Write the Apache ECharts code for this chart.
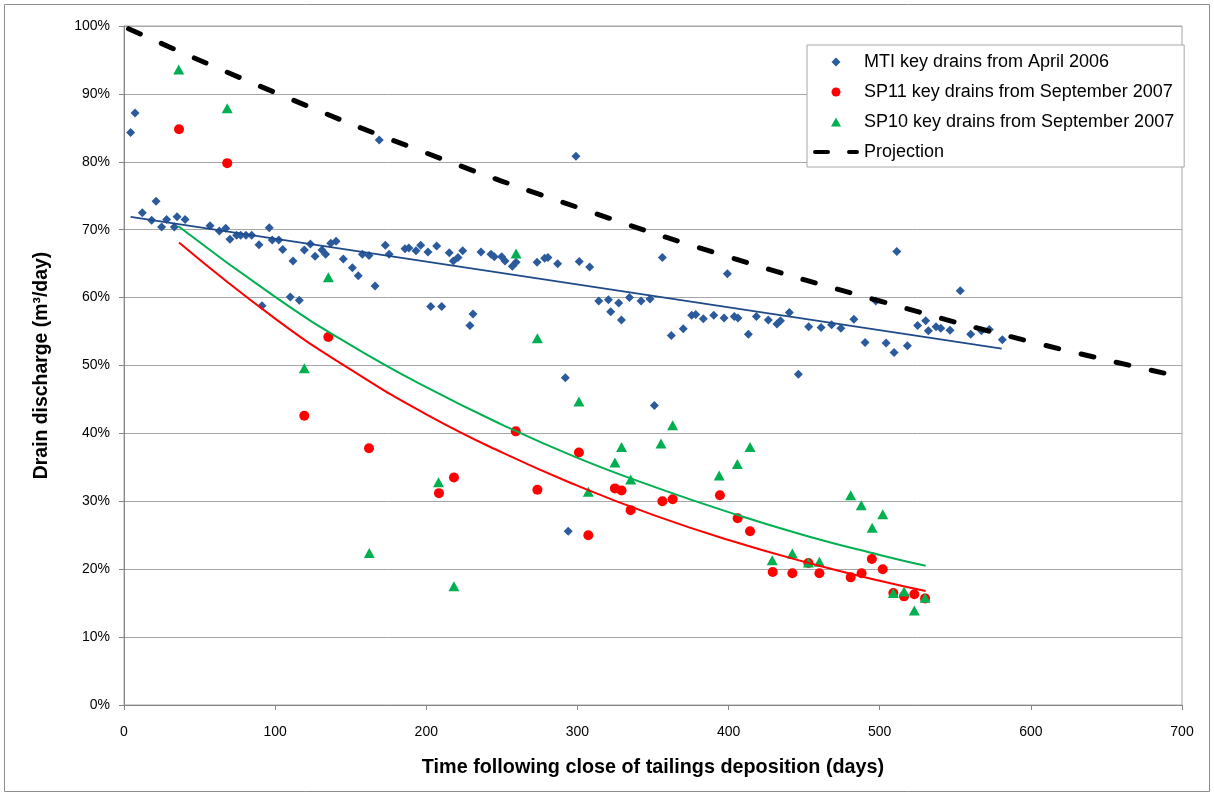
<!DOCTYPE html>
<html><head><meta charset="utf-8">
<script src="https://cdn.jsdelivr.net/npm/echarts@6/dist/echarts.min.js"></script>
<style>html,body{margin:0;padding:0;background:#fff}#c{width:1214px;height:796px}</style>
</head><body><div id="c"></div>
<script>
// ---- data (day, % of initial discharge) ----
const mtiPoints = [[4.4,84.3],[7.3,87.2],[12.1,72.5],[18.3,71.4],[21.2,74.2],[24.9,70.4],[28.2,71.5],[33.3,70.4],[35.1,71.9],[40.4,71.5],[56.9,70.6],[63.1,69.8],[67.3,70.2],[70.1,68.6],[74.5,69.2],[77.2,69.2],[80.7,69.2],[84.5,69.2],[89.3,67.8],[91.3,58.8],[96.1,70.3],[98.1,68.5],[102.4,68.5],[105,67.1],[110,60.1],[111.8,65.4],[116,59.6],[119.3,67.0],[123.3,67.9],[126.4,66.1],[131,67.0],[133.4,66.4],[136.8,68.0],[140.3,68.3],[145.1,65.7],[151.1,64.4],[155,63.2],[157.7,66.4],[162.1,66.2],[166.1,61.7],[168.9,83.2],[172.9,67.7],[175.4,66.4],[185.9,67.2],[188.5,67.3],[193.2,66.9],[196.3,67.7],[201.1,66.7],[202.9,58.7],[206.9,67.6],[210.2,58.7],[215.2,66.6],[217.9,65.4],[221,65.9],[224.1,66.9],[228.9,55.9],[230.9,57.6],[236.2,66.7],[242.8,66.4],[245,66.0],[249.9,66.0],[252.1,65.4],[256.9,64.6],[259.4,65.2],[273.3,65.2],[278.3,65.8],[280.5,65.9],[286.9,65.0],[292,48.2],[293.9,25.6],[299,80.8],[301.2,65.3],[308.1,64.5],[314.1,59.5],[320.5,59.7],[322,57.9],[327.3,59.2],[329.1,56.7],[334.4,60.0],[342.1,59.5],[348,59.8],[350.9,44.1],[356.2,65.9],[362.1,54.4],[370,55.4],[375.6,57.4],[378.3,57.5],[383.3,56.9],[390.2,57.4],[397,57.0],[399.2,63.5],[403.8,57.2],[406.2,57.0],[413.1,54.6],[418.4,57.2],[426.3,56.7],[432,56.1],[434.3,56.6],[440.2,57.8],[446.2,48.7],[453,55.7],[461.2,55.6],[468.2,56.0],[474.3,55.5],[482.9,56.8],[490.3,53.4],[497.4,59.5],[504.2,53.3],[509.5,51.9],[511.3,66.8],[518.3,52.9],[525.1,55.9],[530.4,56.6],[532.2,55.1],[537.3,55.7],[540.4,55.5],[546.5,55.2],[553.3,61.0],[560.2,54.6],[567.3,55.1],[572.5,55.3],[581.1,53.8]];
const sp11Points = [[36.4,84.8],[68.3,79.8],[119.3,42.6],[135.2,54.2],[162.1,37.8],[208.4,31.2],[218.3,33.5],[259.2,40.3],[273.5,31.7],[301,37.2],[307.2,25.0],[324.8,31.9],[329.2,31.6],[335.2,28.7],[356.2,30.0],[363,30.3],[394.3,30.9],[406,27.5],[414.2,25.6],[429.2,19.6],[442.2,19.4],[452.8,20.9],[460.1,19.4],[480.8,18.8],[488,19.4],[494.8,21.5],[502,20.0],[509,16.5],[516.1,16.0],[522.9,16.3],[530,15.7]];
const sp10Points = [[36.2,93.6],[68.3,87.9],[119.3,49.6],[135.2,63.0],[162.3,22.4],[208.1,32.8],[218.3,17.5],[259.4,66.5],[273.5,54.0],[301,44.7],[307.2,31.4],[324.8,35.7],[329.2,38.0],[335.2,33.2],[355.3,38.5],[363,41.2],[393.8,33.8],[405.8,35.5],[414.2,38.0],[428.9,21.3],[442.2,22.3],[452.8,21.0],[460.1,21.1],[480.8,30.9],[487.8,29.4],[495,26.1],[502,28.1],[509,16.5],[516.1,16.7],[522.9,13.9],[530,15.8]];
const projection = [[3,99.6],[100,90.2],[200,81.3],[300,73.3],[400,66.0],[500,59.5],[600,53.5],[700,48.3]];
const mtiTrend = [[4.4,71.9],[580.7,52.5]];
const sp11Trend = [[36.4,68.1],[100,56.9],[150,49.4],[200,42.8],[250,37.2],[300,32.3],[350,28.0],[400,24.3],[450,21.1],[500,18.3],[530.4,16.8]];
const sp10Trend = [[36,70.5],[100,60.1],[150,53.0],[200,46.8],[250,41.3],[300,36.4],[350,32.2],[400,28.4],[450,25.0],[500,22.1],[530.4,20.5]];
const seriesNames = ['MTI key drains from April 2006','SP11 key drains from September 2007','SP10 key drains from September 2007','Projection'];
const xTitle = 'Time following close of tailings deposition (days)';
const yTitle = 'Drain discharge (m\u00b3/day)';

const chart = echarts.init(document.getElementById('c'), null, {renderer:'canvas'});
const font = 'Liberation Sans, Arial, sans-serif';
chart.setOption({
  animation:false,
  backgroundColor:'#fff',
  textStyle:{fontFamily:font},
  graphic:[{type:'rect',shape:{x:4.5,y:4.5,width:1205,height:787},style:{fill:'none',stroke:'#8c8c8c',lineWidth:1},silent:true,z:-10}],
  grid:{left:124,right:32,top:26,bottom:91,show:true,borderColor:'#a6a6a6',borderWidth:1},
  legend:{
    orient:'vertical',left:807,top:45,itemWidth:46,itemHeight:9,itemGap:12,
    padding:[8,10,6,6],backgroundColor:'#fff',borderColor:'#a6a6a6',borderWidth:1,
    selectedMode:false,
    textStyle:{fontSize:18,color:'#000',fontFamily:font},
    data:[
      {name:seriesNames[0],icon:'path://M5,0L10,5L5,10L0,5Z'},
      {name:seriesNames[1],icon:'circle'},
      {name:seriesNames[2],icon:'path://M5,0L10,9L0,9Z'},
      {name:seriesNames[3],icon:'path://M2,0H15A2,2 0 0 1 15,4H2A2,2 0 0 1 2,0Z M36,0H44A2,2 0 0 1 44,4H36A2,2 0 0 1 36,0Z',itemStyle:{color:'#000'}}
    ]
  },
  xAxis:{
    type:'value',min:0,max:700,interval:100,
    name:xTitle,nameLocation:'middle',nameGap:53,
    nameTextStyle:{fontSize:19.8,fontWeight:'bold',color:'#000',fontFamily:font},
    axisLine:{show:true,onZero:false,lineStyle:{color:'#868686',width:1}},
    axisTick:{show:true,length:5,lineStyle:{color:'#868686'}},
    axisLabel:{fontSize:14,color:'#000',margin:20,fontFamily:font},
    splitLine:{show:false}
  },
  yAxis:{
    type:'value',min:0,max:100,interval:10,
    name:yTitle,nameLocation:'middle',nameGap:73,nameRotate:90,
    nameTextStyle:{fontSize:19.4,fontWeight:'bold',color:'#000',fontFamily:font},
    axisLine:{show:true,lineStyle:{color:'#868686',width:1}},
    axisTick:{show:true,length:5,lineStyle:{color:'#868686'}},
    axisLabel:{fontSize:14,color:'#000',margin:14,formatter:'{value}%',fontFamily:font},
    splitLine:{show:true,lineStyle:{color:'#a6a6a6',width:1}}
  },
  series:[
    {name:seriesNames[0],type:'scatter',symbol:'diamond',symbolSize:9,data:mtiPoints,itemStyle:{color:'#2B5B9C',opacity:1},z:3},
    {name:seriesNames[1],type:'scatter',symbol:'circle',symbolSize:10,data:sp11Points,itemStyle:{color:'#FF0000',opacity:1},z:3},
    {name:seriesNames[2],type:'scatter',symbol:'triangle',symbolSize:[11,10],data:sp10Points,itemStyle:{color:'#00B050',opacity:1},z:4},
    {name:seriesNames[3],type:'line',data:projection,smooth:true,symbol:'none',lineStyle:{color:'#000',width:5,type:[13,23],cap:'round'},itemStyle:{color:'#000'},z:5},
    {name:'mtiTrend',type:'line',data:mtiTrend,symbol:'none',lineStyle:{color:'#1F4A8A',width:1.8},z:6,silent:true},
    {name:'sp11Trend',type:'line',data:sp11Trend,smooth:true,symbol:'none',lineStyle:{color:'#FF0000',width:2},z:6,silent:true},
    {name:'sp10Trend',type:'line',data:sp10Trend,smooth:true,symbol:'none',lineStyle:{color:'#00B050',width:2},z:6,silent:true}
  ]
});
</script></body></html>
